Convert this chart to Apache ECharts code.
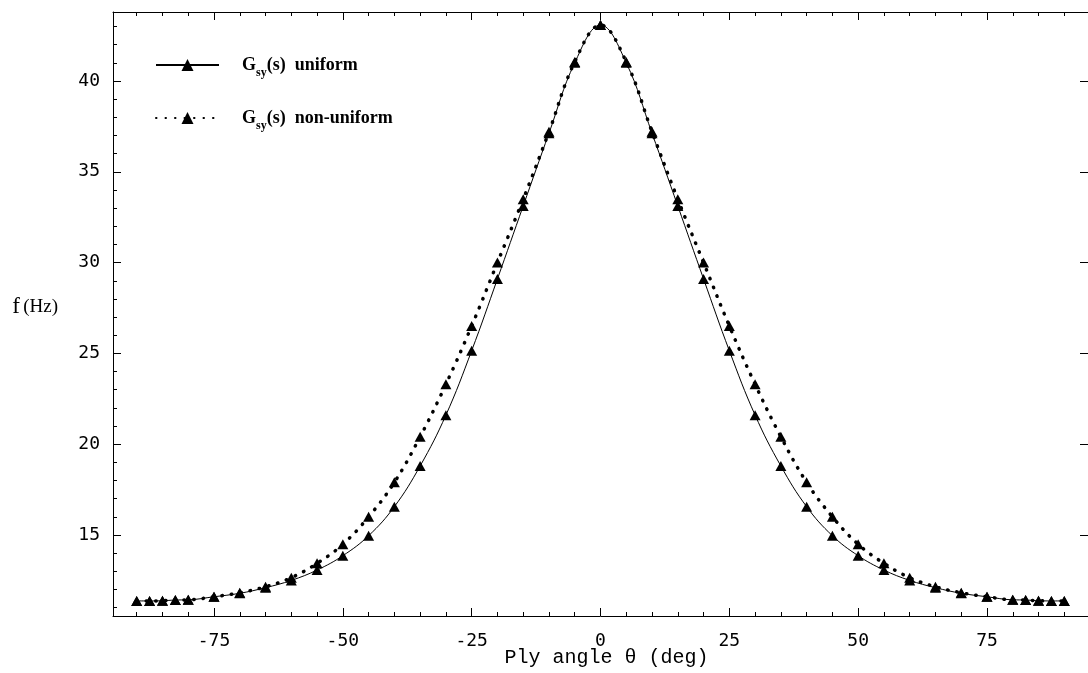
<!DOCTYPE html>
<html>
<head>
<meta charset="utf-8">
<script src="https://cdn.jsdelivr.net/npm/echarts@6/dist/echarts.min.js"></script>
<style>
html,body{margin:0;padding:0;background:#fff;}
#chart{width:1088px;height:673px;}
</style>
</head>
<body>
<div id="chart"></div>
<script>
// Ply angle (deg)
const angles = [-90,-87.5,-85,-82.5,-80,-75,-70,-65,-60,-55,-50,-45,-40,-35,-30,-25,-20,-15,-10,-5,0,
                5,10,15,20,25,30,35,40,45,50,55,60,65,70,75,80,82.5,85,87.5,90];
// f (Hz), Gsy(s) uniform
const uniform = [11.37,11.37,11.38,11.42,11.43,11.60,11.79,12.10,12.50,13.07,13.86,14.96,16.56,18.80,21.60,25.15,29.10,33.12,37.12,41.00,43.08,
                 41.00,37.12,33.12,29.10,25.15,21.60,18.80,16.56,14.96,13.86,13.07,12.50,12.10,11.79,11.60,11.43,11.42,11.38,11.37,11.37];
// f (Hz), Gsy(s) non-uniform
const nonUniform = [11.37,11.37,11.38,11.42,11.43,11.60,11.82,12.15,12.65,13.44,14.49,16.00,17.90,20.41,23.30,26.51,30.00,33.49,37.20,41.05,43.08,
                    41.05,37.20,33.49,30.00,26.51,23.30,20.41,17.90,16.00,14.49,13.44,12.65,12.15,11.82,11.60,11.43,11.42,11.38,11.37,11.37];
// tick values
const xMajorTicks = [-75,-50,-25,0,25,50,75];
const xMinorTicks = [-90,-85,-80,-70,-65,-60,-55,-45,-40,-35,-30,-20,-15,-10,-5,5,10,15,20,30,35,40,45,55,60,65,70,80,85,90];
const yMajorTicks = [15,20,25,30,35,40];
const yMinorTicks = [11,12,13,14,16,17,18,19,21,22,23,24,26,27,28,29,31,32,33,34,36,37,38,39,41,42,43];

const X_MIN = -94.6, X_MAX = 94.6, Y_MIN = 10.54, Y_MAX = 43.8;

const chart = echarts.init(document.getElementById('chart'), null, {renderer: 'canvas'});

const tickFont = {fontFamily: 'DejaVu Sans Mono', fontSize: 18, color: '#000'};

function xAx(opts) {
  return Object.assign({
    type: 'value', min: X_MIN, max: X_MAX, gridIndex: 0,
    splitLine: {show: false}, axisLabel: {show: false},
    axisLine: {show: false, onZero: false}, axisTick: {show: false}
  }, opts);
}
function yAx(opts) {
  return Object.assign({
    type: 'value', min: Y_MIN, max: Y_MAX, gridIndex: 0,
    splitLine: {show: false}, axisLabel: {show: false},
    axisLine: {show: false, onZero: false}, axisTick: {show: false}
  }, opts);
}

const option = {
  animation: false,
  backgroundColor: '#fff',
  grid: {left: 113, top: 12, width: 979, height: 604, containLabel: false},
  legend: {
    orient: 'vertical', left: 150, top: 51,
    itemWidth: 63, itemHeight: 15, itemGap: 30,
    data: ['uniform', 'non-uniform'],
    formatter: function (name) { return '{g|G}{s|sy}{g|(s)  ' + name + '}'; },
    textStyle: {
      padding: [0, 0, 0, 18],
      rich: {
        g: {fontFamily: 'Liberation Serif', fontWeight: 'bold', fontSize: 18, color: '#000', lineHeight: 22},
        s: {fontFamily: 'Liberation Serif', fontWeight: 'bold', fontSize: 12, color: '#000', lineHeight: 12, verticalAlign: 'bottom', padding: [0, 0, -3, 0]}
      }
    }
  },
  xAxis: [
    xAx({position: 'bottom',
      axisLine: {show: true, onZero: false, lineStyle: {color: '#000', width: 1}},
      axisTick: {show: true, inside: true, length: 8, customValues: xMajorTicks, lineStyle: {color: '#000'}},
      axisLabel: Object.assign({show: true, margin: 16, customValues: xMajorTicks}, tickFont),
      name: 'Ply angle θ (deg)', nameLocation: 'middle', nameGap: 32, nameMoveOverlap: false,
      nameTextStyle: {fontFamily: 'Liberation Mono', fontSize: 20, color: '#000', padding: [0, 0, 0, 12]}
    }),
    xAx({position: 'bottom',
      axisTick: {show: true, inside: true, length: 4, customValues: xMinorTicks, lineStyle: {color: '#000'}}
    }),
    xAx({position: 'top',
      axisLine: {show: true, onZero: false, lineStyle: {color: '#000', width: 1}},
      axisTick: {show: true, inside: true, length: 8, customValues: xMajorTicks, lineStyle: {color: '#000'}}
    }),
    xAx({position: 'top',
      axisTick: {show: true, inside: true, length: 4, customValues: xMinorTicks, lineStyle: {color: '#000'}}
    })
  ],
  yAxis: [
    yAx({position: 'left',
      axisLine: {show: true, onZero: false, lineStyle: {color: '#000', width: 1}},
      axisTick: {show: true, inside: true, length: 8, customValues: yMajorTicks, lineStyle: {color: '#000'}},
      axisLabel: Object.assign({show: true, margin: 13, customValues: yMajorTicks}, tickFont),
      name: '{a|f} {b|(Hz)}', nameLocation: 'middle', nameRotate: 0, nameGap: 55, nameMoveOverlap: false,
      nameTextStyle: {padding: [0, 0, 14, 0], rich: {
        a: {fontFamily: 'Liberation Serif', fontSize: 23, color: '#000'},
        b: {fontFamily: 'Liberation Serif', fontSize: 19, color: '#000'}
      }}
    }),
    yAx({position: 'left',
      axisTick: {show: true, inside: true, length: 4, customValues: yMinorTicks, lineStyle: {color: '#000'}}
    }),
    yAx({position: 'right',
      axisLine: {show: true, onZero: false, lineStyle: {color: '#000', width: 1}},
      axisTick: {show: true, inside: true, length: 8, customValues: yMajorTicks, lineStyle: {color: '#000'}}
    })
  ],
  series: [
    {
      name: 'uniform', type: 'line', xAxisIndex: 0, yAxisIndex: 0,
      data: angles.map((a, i) => [a, uniform[i]]),
      smooth: 0.4, symbol: 'triangle', symbolSize: [11, 10],
      itemStyle: {color: '#000'},
      lineStyle: {color: '#000', width: 1},
      z: 3
    },
    {
      name: 'non-uniform', type: 'line', xAxisIndex: 0, yAxisIndex: 0,
      data: angles.map((a, i) => [a, nonUniform[i]]),
      smooth: 0.4, symbol: 'triangle', symbolSize: [11, 10],
      itemStyle: {color: '#000'},
      lineStyle: {color: '#000', width: 3.5, type: [0.5, 9], cap: 'round'},
      z: 2
    }
  ]
};
chart.setOption(option);
</script>
</body>
</html>
